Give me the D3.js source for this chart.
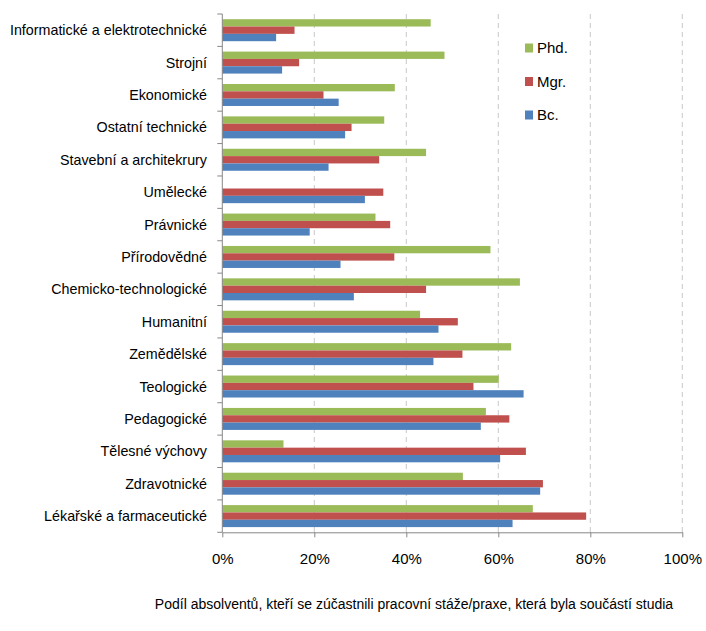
<!DOCTYPE html>
<html><head><meta charset="utf-8">
<script src="https://cdn.jsdelivr.net/npm/d3@7"></script>
<style>
body{margin:0;background:#fff;}
text{font-family:"Liberation Sans Narrow","Liberation Sans",Arial,sans-serif;fill:#000;}
</style></head>
<body><svg id="c" width="706" height="631"></svg>
<script>
const categories = ["Informatické a elektrotechnické","Strojní","Ekonomické","Ostatní technické","Stavební a architekrury","Umělecké","Právnické","Přírodovědné","Chemicko-technologické","Humanitní","Zemědělské","Teologické","Pedagogické","Tělesné výchovy","Zdravotnické","Lékařské a farmaceutické"];
const seriesNames = ["Phd.","Mgr.","Bc."];
const phd = [45.3,48.3,37.5,35.2,44.3,0,33.3,58.3,64.7,43.0,62.8,60.1,57.3,13.3,52.3,67.5];
const mgr = [15.7,16.7,22.0,28.1,34.1,35.0,36.5,37.4,44.3,51.2,52.2,54.6,62.4,66.0,69.7,79.1];
const bc  = [11.7,13.0,25.3,26.7,23.1,31.0,19.0,25.7,28.6,47.0,45.9,65.5,56.2,60.4,69.1,63.1];
const xTicks = [0,20,40,60,80,100];
const colors = ["#9BBB59","#C0504D","#4F81BD"];
const axisTitle = "Podíl absolventů, kteří se zúčastnili pracovní stáže/praxe, která byla součástí studia";

const svg = d3.select("#c");
const L=222.3, R=682.3, T=14, B=532.3;
const x = d3.scaleLinear().domain([0,100]).range([L,R]);
const y = d3.scaleBand().domain(categories).range([T,B]);
const ys = d3.scaleBand().domain(seriesNames).range([0,y.bandwidth()]).paddingOuter(0.71);
const values = [phd,mgr,bc];

// gridlines
svg.append("g").selectAll("line").data(xTicks.slice(1)).join("line")
  .attr("x1",d=>x(d)).attr("x2",d=>x(d)).attr("y1",T).attr("y2",B)
  .attr("stroke","#c8c8c8").attr("stroke-width",1).attr("stroke-dasharray","5,4");

// bars
categories.forEach((c,i)=>{
  seriesNames.forEach((s,j)=>{
    const v = values[j][i];
    if(v<=0) return;
    svg.append("rect").attr("x",x(0)).attr("y",y(c)+ys(s))
      .attr("width",x(v)-x(0)).attr("height",ys.bandwidth()).attr("fill",colors[j]);
  });
});

// axes
const xAxis = d3.axisBottom(x).tickValues(xTicks).tickFormat(d=>d+"%").tickSize(5).tickSizeOuter(0);
const gx = svg.append("g").attr("transform",`translate(0,${B})`).call(xAxis);
gx.select(".domain").attr("stroke","#888");
gx.selectAll(".tick line").attr("stroke","#888");
gx.selectAll(".tick text").attr("dy","1.6em").style("font-size","15px").style("font-family",'"Liberation Sans Narrow","Liberation Sans",Arial,sans-serif');

// y axis line and ticks at band boundaries
svg.append("line").attr("x1",L).attr("x2",L).attr("y1",T).attr("y2",B).attr("stroke","#888");
const bounds = categories.map(c=>y(c)).concat([B]);
svg.append("g").selectAll("line").data(bounds).join("line")
  .attr("x1",L-5).attr("x2",L).attr("y1",d=>d).attr("y2",d=>d).attr("stroke","#888");
svg.append("g").selectAll("text").data(categories).join("text")
  .attr("x",207).attr("y",d=>y(d)+y.bandwidth()/2).attr("dy","0.35em")
  .attr("text-anchor","end").style("font-size","14.3px").text(d=>d);

// legend
const lg = svg.append("g");
seriesNames.forEach((s,j)=>{
  const cy = 48 + j*33.5;
  lg.append("rect").attr("x",525).attr("y",cy-4.5).attr("width",8).attr("height",9).attr("fill",colors[j]);
  lg.append("text").attr("x",537).attr("y",cy).attr("dy","0.35em").style("font-size","15px").text(s);
});

// axis title
svg.append("text").attr("x",414).attr("y",604).attr("dy","0.35em").attr("text-anchor","middle")
  .style("font-size","14px").text(axisTitle);
</script></body></html>
